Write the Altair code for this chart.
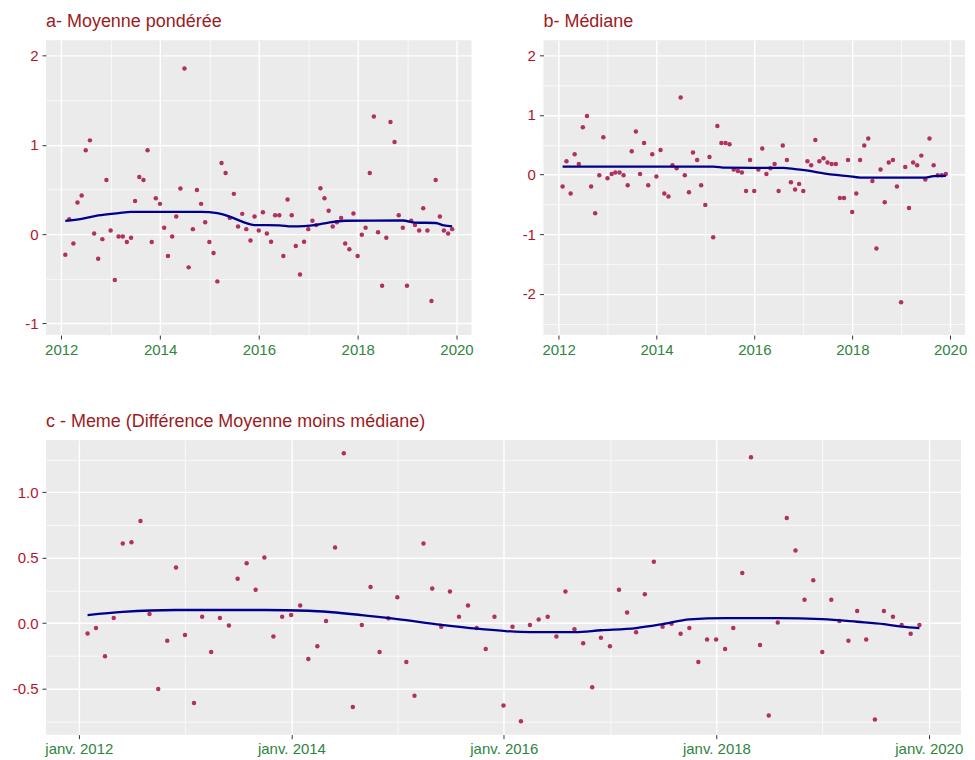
import altair as alt
import pandas as pd

# Monthly observations (month ends, Jan 2012 .. Nov 2019)
dates = (pd.date_range("2012-02-01", periods=95, freq="MS") - pd.Timedelta(days=1)).strftime("%Y-%m-%dT00:00:00").tolist()

moyenne = [
    -0.231, 0.168, -0.104, 0.354, 0.432, 0.939, 1.050, 0.007, -0.276, -0.056,
    0.607, 0.041, -0.514, -0.026, -0.026, -0.089, -0.041, 0.372, 0.641, 0.607,
    0.939, -0.089, 0.402, 0.339, 0.071, -0.246, -0.026, 0.197, 0.510, 1.855,
    -0.372, 0.056, 0.495, 0.339, 0.134, -0.089, -0.212, -0.529, 0.797, 0.685,
    0.182, 0.451, 0.086, 0.227, 0.056, -0.071, 0.197, 0.041, 0.246, 0.007,
    -0.086, 0.212, 0.212, -0.246, 0.387, 0.212, -0.134, -0.451, -0.086, 0.056,
    0.149, 0.101, 0.514, 0.402, 0.261, 0.086, 0.134, 0.182, -0.104, -0.168,
    0.231, -0.246, -0.007, 0.071, 0.685, 1.318, 0.022, -0.577, -0.041, 1.255,
    1.032, 0.212, 0.071, -0.577, 0.149, 0.101, 0.041, 0.291, 0.041, -0.749,
    0.607, 0.197, 0.041, 0.007, 0.056,
]

mediane = [
    -0.201, 0.223, -0.318, 0.341, 0.179, 0.793, 0.983, -0.201, -0.648, -0.011,
    0.626, -0.061, 0.011, 0.034, 0.034, -0.011, -0.179, 0.391, 0.721, 0.011,
    0.531, -0.179, 0.341, -0.034, 0.413, -0.318, -0.369, 0.156, 0.106, 1.291,
    -0.011, -0.296, 0.369, 0.246, -0.179, -0.508, 0.296, -1.050, 0.816, 0.531,
    0.531, 0.508, 0.084, 0.061, 0.034, -0.274, 0.246, -0.274, 0.084, 0.436,
    0.011, 0.106, 0.179, -0.274, 0.486, 0.246, -0.128, -0.251, -0.156, -0.274,
    0.223, 0.156, 0.581, 0.223, 0.274, 0.201, 0.179, 0.179, -0.391, -0.391,
    0.246, -0.626, -0.318, 0.246, 0.486, 0.603, -0.106, -1.240, 0.084, -0.464,
    0.201, 0.246, -0.201, -2.140, 0.128, -0.559, 0.201, 0.156, 0.318, -0.084,
    0.603, 0.156, -0.011, -0.011, 0.011,
]

meme = [
    -0.079, -0.038, -0.254, 0.038, 0.608, 0.618, 0.781, 0.069, -0.504, -0.135,
    0.425, -0.092, -0.611, 0.048, -0.221, 0.038, -0.018, 0.338, 0.458, 0.254,
    0.501, -0.102, 0.048, 0.061, 0.135, -0.275, -0.178, 0.015, 0.578, 1.298,
    -0.641, -0.015, 0.275, -0.221, 0.036, 0.198, -0.298, -0.555, 0.608, 0.265,
    -0.028, 0.242, 0.048, 0.135, -0.038, -0.198, 0.048, -0.631, -0.028, -0.751,
    -0.015, 0.028, 0.048, -0.102, 0.242, -0.048, -0.155, -0.491, -0.112, -0.178,
    0.254, 0.081, -0.071, 0.221, 0.468, -0.028, -0.005, -0.081, -0.038, -0.298,
    -0.125, -0.125, -0.198, -0.038, 0.382, 1.267, -0.168, -0.707, 0.005, 0.804,
    0.555, 0.178, 0.328, -0.221, 0.178, 0.015, -0.135, 0.092, -0.125, -0.738,
    0.092, 0.048, -0.015, -0.081, -0.015,
]

# Smoothed curves (read at knots, index into dates)
moyenne_smooth_idx = [0, 4, 8, 13, 16, 33, 37, 40, 43, 46, 52, 55, 58, 61, 64, 68, 82, 85, 90, 92, 94]
moyenne_smooth = [0.149, 0.172, 0.209, 0.236, 0.250, 0.250, 0.235, 0.197, 0.140, 0.102, 0.098, 0.086,
                  0.090, 0.104, 0.130, 0.150, 0.153, 0.130, 0.125, 0.097, 0.086]

mediane_smooth_idx = [0, 37, 40, 54, 57, 61, 64, 67, 70, 73, 89, 91, 94]
mediane_smooth = [0.134, 0.134, 0.115, 0.112, 0.090, 0.056, 0.022, -0.006, -0.025, -0.050, -0.050, -0.025, -0.022]

meme_smooth_idx = [0, 4, 10, 20, 25, 31, 35, 40, 44, 47, 50, 55, 58, 62, 65, 68, 72, 78, 83, 87, 90, 92, 94]
meme_smooth = [0.061, 0.085, 0.100, 0.100, 0.094, 0.061, 0.030, -0.013, -0.043, -0.060, -0.069, -0.069,
               -0.055, -0.038, -0.008, 0.028, 0.038, 0.038, 0.030, 0.010, -0.008, -0.028, -0.038]

titles = ["a- Moyenne pondérée", "b- Médiane", "c - Meme (Différence Moyenne moins médiane)"]

FONT = "Liberation Sans"
TITLE_COLOR = "#9E1B22"
YLAB_COLOR = "#B5152B"
XLAB_COLOR = "#2E8540"
POINT_COLOR = "#B03060"
LINE_COLOR = "#00008B"

x_domain = [alt.DateTime(year=2011, month=9, date=10), alt.DateTime(year=2020, month=4, date=21)]
x_values = [alt.DateTime(year=y, month=1, date=1) for y in range(2012, 2021)]


def panel(vals, sidx, svals, title, ydomain, yvals, ymajor_step, xlabel_expr, width, height):
    df = pd.DataFrame({"date": dates, "v": vals})
    sdf = pd.DataFrame({"date": [dates[i] for i in sidx], "v": svals})
    minor_test_y = f"abs(datum.value % {ymajor_step}) > 0.001"
    if ymajor_step == 1:
        ylab = "abs(datum.value % 1) > 0.001 ? '' : replace(format(datum.value, 'd'), '\u2212', '-')"
    else:
        ylab = f"abs(datum.value % {ymajor_step}) > 0.001 ? '' : replace(format(datum.value, '.1f'), '\u2212', '-')"
    x_axis = alt.Axis(
        values=x_values,
        labelExpr=xlabel_expr,
        title=None,
        labelColor=XLAB_COLOR,
        labelFont=FONT,
        labelFontSize=15,
        labelPadding=3,
        labelOverlap=False,
        labelFlush=False,
        tickSize=4,
        tickColor="#333333",
        tickOpacity={"condition": {"test": "year(datum.value) % 2 == 1", "value": 0}, "value": 1},
        gridColor="white",
        gridWidth={"condition": {"test": "year(datum.value) % 2 == 1", "value": 0.7}, "value": 1.4},
        domain=False,
    )
    y_axis = alt.Axis(
        values=yvals,
        labelExpr=ylab,
        title=None,
        labelColor=YLAB_COLOR,
        labelFont=FONT,
        labelFontSize=15,
        labelPadding=4,
        labelOverlap=False,
        labelFlush=False,
        tickSize=4,
        tickColor="#333333",
        tickOpacity={"condition": {"test": minor_test_y, "value": 0}, "value": 1},
        gridColor="white",
        gridWidth={"condition": {"test": minor_test_y, "value": 0.7}, "value": 1.4},
        domain=False,
        minExtent=38,
        maxExtent=38,
    )
    x = alt.X("date:T", scale=alt.Scale(domain=x_domain, nice=False), axis=x_axis)
    y = alt.Y("v:Q", scale=alt.Scale(domain=ydomain, nice=False, zero=False), axis=y_axis)
    pts = alt.Chart(df).mark_circle(size=20, color=POINT_COLOR, opacity=1).encode(x=x, y=y)
    line = alt.Chart(sdf).mark_line(color=LINE_COLOR, strokeWidth=2.3, interpolate="monotone").encode(x=x, y=y)
    return alt.layer(pts, line).properties(
        width=width,
        height=height,
        title=alt.TitleParams(
            text=title, anchor="start", frame="group", color=TITLE_COLOR, font=FONT,
            fontSize=18, fontWeight="normal", baseline="alphabetic", offset=-5,
        ),
    )


year_expr = "year(datum.value) % 2 == 0 ? timeFormat(datum.value, '%Y') : ''"
janv_expr = "year(datum.value) % 2 == 0 ? 'janv. ' + timeFormat(datum.value, '%Y') : ''"

pa = panel(moyenne, moyenne_smooth_idx, moyenne_smooth, titles[0], [-1.13, 2.17],
           [-1, -0.5, 0, 0.5, 1, 1.5, 2], 1, year_expr, 426, 295)
pb = panel(mediane, mediane_smooth_idx, mediane_smooth, titles[1], [-2.69, 2.25],
           [-2.5, -2, -1.5, -1, -0.5, 0, 0.5, 1, 1.5, 2], 1, year_expr, 422, 295)
pc = panel(meme, meme_smooth_idx, meme_smooth, titles[2], [-0.853, 1.40],
           [-0.75, -0.5, -0.25, 0, 0.25, 0.5, 0.75, 1.0, 1.25], 0.5, janv_expr, 916, 295)

top = alt.hconcat(pa, pb, spacing=32)
chart = alt.vconcat(top, pc, spacing=56).properties(
    padding={"left": 0, "top": 5, "right": 0, "bottom": 0},
    background="white",
).configure_view(fill="#EBEBEB", strokeWidth=0)

chart.save("out.html", embed_options={"renderer": "svg", "actions": False})
